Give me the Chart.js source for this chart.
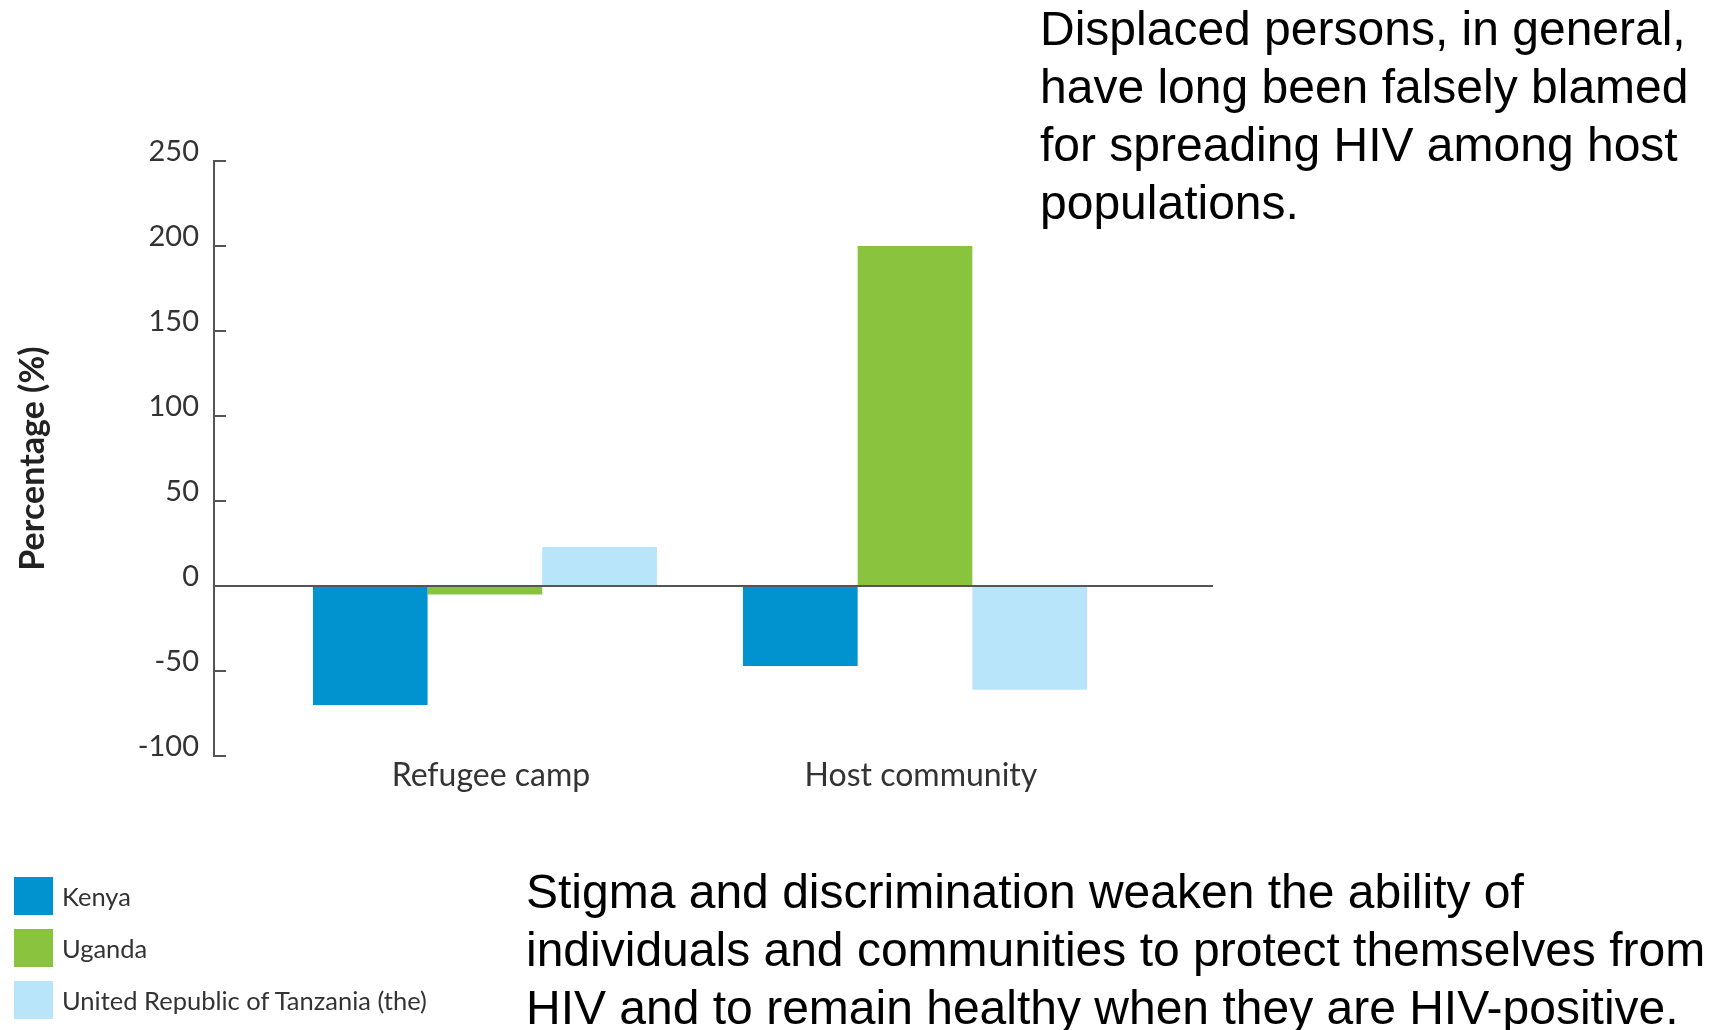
<!DOCTYPE html>
<html>
<head>
<meta charset="utf-8">
<script src="https://cdn.jsdelivr.net/npm/chart.js@4.4.1/dist/chart.umd.min.js"></script>
<style>
  html, body { margin: 0; padding: 0; background: #fff; }
  body { width: 1715px; height: 1030px; position: relative; overflow: hidden; }
  #wrap { position: absolute; left: 0; top: 0; width: 1715px; height: 1030px; }
  .note { position: absolute; font-family: "Liberation Sans", Arial, sans-serif; font-size: 48px; line-height: 58px; color: #000; white-space: nowrap; }
  #legend { position: absolute; left: 14px; top: 877px; font-family: Lato, "Open Sans", sans-serif; font-size: 25.5px; color: #333; }
  #legend .item { height: 52px; position: relative; }
  #legend .sw { position: absolute; left: 0; top: 0; width: 39px; height: 38px; }
  #legend .lb { position: absolute; left: 48px; top: 0; line-height: 38px; white-space: nowrap; }
</style>
</head>
<body>
<div id="wrap"><canvas id="hivChart"></canvas></div>
<div class="note" style="left:1040px; top:0px;">Displaced persons, in general,<br>have long been falsely blamed<br>for spreading HIV among host<br>populations.</div>
<div class="note" style="left:526px; top:863px;">Stigma and discrimination weaken the ability of<br>individuals and communities to protect themselves from<br>HIV and to remain healthy when they are HIV-positive.</div>
<div id="legend"></div>
<script>
// data
var categories = ["Refugee camp", "Host community"];
var countries = ["Kenya", "Uganda", "United Republic of Tanzania (the)"];
var kenya = [-70, -47];
var uganda = [-5, 200];
var tanzania = [23, -61];
var yTicks = [-100, -50, 0, 50, 100, 150, 200, 250];
var colors = ["#0093D0", "#8AC43F", "#B9E5FB"];

var seriesValues = [kenya, uganda, tanzania];

function toPoints(values) {
  return values.map(function (v, i) {
    return { x: i, y: v };
  });
}

var datasets = seriesValues.map(function (values, i) {
  return {
    label: countries[i],
    data: toPoints(values),
    backgroundColor: colors[i],
    borderWidth: 0,
    categoryPercentage: 0.8,
    barPercentage: 1.0,
  };
});

// legend
var legend = document.getElementById("legend");
countries.forEach(function (name, i) {
  var item = document.createElement("div");
  item.className = "item";
  item.innerHTML = '<div class="sw" style="background:' + colors[i] + '"></div><div class="lb"></div>';
  item.querySelector(".lb").textContent = name;
  legend.appendChild(item);
});

var ctx = document.getElementById("hivChart").getContext("2d");
var hivChart = new Chart(ctx, {
  type: "bar",
  data: { datasets: datasets },
  options: {
    responsive: true,
    maintainAspectRatio: false,
    animation: false,
    layout: { padding: { left: 0, top: 161, right: 502, bottom: 224 } },
    plugins: {
      legend: { display: false },
      tooltip: { enabled: false },
    },
    scales: {
      x: {
        type: "linear",
        offset: false,
        min: -0.63,
        max: 1.693,
        afterBuildTicks: function (scale) {
          scale.ticks = categories.map(function (c, i) {
            return { value: i };
          });
        },
        afterFit: function (scale) {
          scale.height = 50;
        },
        grid: { display: false, drawTicks: false, offset: false },
        border: { display: false },
        ticks: {
          padding: 0,
          labelOffset: 6,
          maxRotation: 0,
          autoSkip: false,
          color: "#333",
          font: { family: "Lato", size: 32 },
          callback: function (v) {
            return categories[v];
          },
        },
      },
      y: {
        min: -100,
        max: 250,
        afterBuildTicks: function (scale) {
          scale.ticks = yTicks.map(function (v) {
            return { value: v };
          });
        },
        afterFit: function (scale) {
          scale.width = 214;
        },
        border: { display: true, color: "#555", width: 2 },
        grid: {
          drawTicks: true,
          tickLength: -12,
          tickWidth: 2,
          tickColor: "#555",
          lineWidth: 2,
          color: function (c) {
            return c.tick && c.tick.value === 0 ? "#555" : "rgba(0,0,0,0)";
          },
        },
        ticks: {
          padding: 27,
          labelOffset: -9,
          color: "#333",
          font: { family: "Lato", size: 29 },
        },
        title: {
          display: true,
          text: "Percentage (%)",
          color: "#222",
          padding: { top: 13, bottom: 0 },
          font: { family: "Lato", size: 34, weight: "bold" },
        },
      },
    },
  },
});
</script>
</body>
</html>
